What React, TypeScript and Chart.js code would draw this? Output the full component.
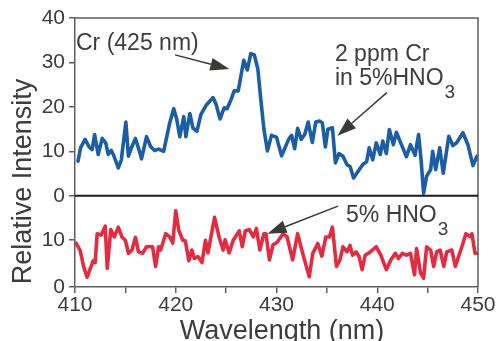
import { useEffect, useRef } from "react";
import { Chart, registerables } from "chart.js";

Chart.register(...registerables);

// ---------- data ----------
const blueX = [
  410.3, 410.55, 411.0, 411.4, 411.7, 411.95, 412.3, 412.7, 413.05, 413.3, 413.6, 413.8,
  414.3, 414.6, 415.05, 415.3, 415.6, 416.0, 416.4, 416.6, 417.1, 417.5, 417.9, 418.3,
  418.8, 419.4, 419.8, 420.1, 420.4, 420.8, 421.0, 421.4, 421.7, 422.1, 422.5, 423.0,
  423.7, 424.0, 424.4, 424.8, 425.1, 425.5, 425.8, 426.2, 426.75, 427.1, 427.45, 427.8,
  428.15, 428.45, 428.75, 429.1, 429.5, 430.0, 430.5, 430.85, 431.2, 431.5, 431.8, 432.1,
  432.45, 432.8, 433.15, 433.55, 433.9, 434.3, 434.55, 434.85, 435.1, 435.55, 435.85, 436.2,
  436.6, 437.0, 437.3, 437.65, 438.1, 438.55, 438.95, 439.2, 439.55, 439.9, 440.3, 440.55,
  440.9, 441.2, 441.6, 441.9, 442.4, 442.9, 443.3, 443.75, 444.1, 444.35, 444.6, 444.9,
  445.3, 445.5, 445.8, 446.2, 446.55, 447.1, 447.5, 447.9, 448.5, 449.0, 449.5, 449.9,
];
const blueY = [
  7.8, 10.8, 12.7, 11.0, 10.4, 13.8, 9.3, 12.9, 11.9, 9.3, 10.2, 9.3,
  6.3, 8.1, 16.6, 8.9, 10.8, 12.9, 10.0, 8.3, 13.3, 11.1, 10.2, 10.5,
  10.0, 16.4, 19.6, 17.2, 13.3, 17.8, 13.3, 18.5, 15.3, 14.5, 18.3, 20.3,
  22.1, 20.6, 17.3, 19.8, 19.6, 21.7, 23.6, 23.6, 30.5, 28.3, 32.0, 31.7,
  28.5, 21.5, 15.0, 10.1, 13.6, 13.2, 9.0, 10.8, 12.7, 13.6, 10.6, 15.2,
  12.7, 13.8, 16.6, 12.0, 16.6, 16.8, 16.4, 11.0, 15.0, 15.3, 7.4, 9.5,
  8.9, 7.0, 6.6, 4.0, 5.5, 7.0, 7.7, 10.8, 8.1, 11.9, 9.3, 12.3,
  9.5, 14.9, 11.5, 14.3, 11.5, 8.8, 11.5, 9.1, 13.8, 8.1, 0.6, 4.4,
  5.9, 10.0, 5.9, 10.8, 5.1, 13.4, 11.3, 12.0, 14.2, 11.5, 6.8, 8.9,
];

const redX = [
  410.1, 410.5, 410.9, 411.2, 411.6, 411.8, 412.0, 412.2, 412.6, 412.75, 413.0, 413.2,
  413.55, 413.9, 414.3, 414.65, 415.0, 415.3, 415.65, 416.0, 416.3, 416.7, 417.1, 417.7,
  418.0, 418.3, 418.5, 419.0, 419.4, 419.7, 420.0, 420.3, 420.7, 420.95, 421.3, 421.6,
  421.85, 422.2, 422.4, 422.6, 422.95, 423.2, 423.85, 424.3, 424.7, 424.9, 425.3, 425.7,
  426.3, 426.6, 426.9, 427.3, 427.7, 428.0, 428.35, 428.75, 428.95, 429.3, 429.65, 430.05,
  430.65, 431.05, 431.6, 432.1, 432.6, 433.25, 433.6, 434.1, 434.5, 434.9, 435.25, 435.55,
  435.95, 436.3, 436.6, 437.0, 437.3, 437.55, 437.9, 438.2, 438.5, 438.8, 439.3, 439.9,
  440.35, 440.9, 441.35, 441.8, 442.1, 442.5, 442.9, 443.3, 443.7, 443.9, 444.3, 444.6,
  444.9, 445.3, 445.6, 445.9, 446.25, 446.6, 446.9, 447.4, 447.75, 448.4, 448.8, 449.2,
  449.4, 449.7, 450.0,
];
const redY = [
  9.4, 7.9, 4.0, 2.1, 4.4, 5.6, 5.2, 11.4, 11.1, 11.8, 13.0, 4.0,
  12.3, 10.7, 12.8, 10.7, 10.0, 7.2, 7.9, 10.6, 7.5, 7.2, 8.6, 8.6,
  4.4, 8.6, 7.9, 11.4, 10.7, 9.4, 16.3, 12.1, 10.0, 9.9, 5.6, 7.9,
  6.1, 6.5, 5.9, 5.2, 10.0, 7.3, 14.9, 10.7, 7.9, 10.1, 7.3, 10.0,
  12.0, 8.6, 12.0, 12.3, 10.7, 12.5, 7.9, 11.4, 11.4, 5.8, 9.0, 9.5,
  11.4, 10.7, 5.8, 11.4, 7.2, 2.2, 7.2, 9.3, 6.6, 10.7, 10.7, 12.8,
  4.4, 5.8, 8.6, 7.5, 8.9, 6.8, 7.5, 6.5, 3.7, 6.8, 7.5, 8.6,
  6.8, 3.7, 5.8, 7.2, 6.1, 7.2, 6.8, 7.2, 2.6, 8.2, 3.0, 1.9,
  8.6, 7.9, 4.4, 7.5, 7.9, 4.4, 7.5, 7.9, 4.4, 8.6, 11.4, 10.8,
  11.4, 7.2, 7.2,
];

const xTickStep = 5;
const topTicks = [0, 10, 20, 30, 40];
const bottomTicks = [0, 10];

const xTitle = "Wavelength (nm)";
const yTitle = "Relative Intensity";

// ---------- style ----------
const FONT = "'Liberation Sans', Arial, Helvetica, sans-serif";
const TEXT = "#3d3d3d";
const AXIS = "#5e5e5e";
const BLUE = "#1b5ea8";
const RED = "#e52b3f";
const ARROW = "#3a3a37";

function arrow(ctx: CanvasRenderingContext2D, x1: number, y1: number, x2: number, y2: number) {
  const ang = Math.atan2(y2 - y1, x2 - x1);
  const len = 19;
  const hw = 6.5;
  const bx = x2 - Math.cos(ang) * len;
  const by = y2 - Math.sin(ang) * len;
  ctx.strokeStyle = ARROW;
  ctx.fillStyle = ARROW;
  ctx.lineWidth = 1.5;
  ctx.beginPath();
  ctx.moveTo(x1, y1);
  ctx.lineTo(bx, by);
  ctx.stroke();
  ctx.beginPath();
  ctx.moveTo(x2, y2);
  ctx.lineTo(bx + Math.sin(ang) * hw, by - Math.cos(ang) * hw);
  ctx.lineTo(bx - Math.sin(ang) * hw, by + Math.cos(ang) * hw);
  ctx.closePath();
  ctx.fill();
}

function subText(ctx: CanvasRenderingContext2D, main: string, sub: string, x: number, y: number) {
  ctx.fillStyle = TEXT;
  ctx.font = `23px ${FONT}`;
  ctx.textAlign = "left";
  ctx.textBaseline = "alphabetic";
  ctx.fillText(main, x, y);
  const w = ctx.measureText(main).width;
  ctx.font = `19px ${FONT}`;
  ctx.fillText(sub, x + w + 1, y + 13.5);
}

const overlay = {
  id: "overlay",
  afterDraw(chart: any) {
    const { ctx, chartArea: a, scales } = chart;
    const sx = scales.x;
    const st = scales.y;
    const sb = scales.y2;
    const X = (v: number) => sx.getPixelForValue(v);
    const T = (v: number) => st.getPixelForValue(v);
    const B = (v: number) => sb.getPixelForValue(v);
    ctx.save();

    // frame
    ctx.strokeStyle = AXIS;
    ctx.lineWidth = 1.5;
    ctx.beginPath();
    ctx.moveTo(a.left, a.top);
    ctx.lineTo(a.right, a.top);
    ctx.lineTo(a.right, a.bottom);
    ctx.stroke();

    // panel separator
    ctx.strokeStyle = "#1a1a1a";
    ctx.lineWidth = 2;
    ctx.beginPath();
    ctx.moveTo(a.left, st.bottom);
    ctx.lineTo(a.right, st.bottom);
    ctx.stroke();

    // axis titles
    ctx.fillStyle = TEXT;
    ctx.font = `27px ${FONT}`;
    ctx.textAlign = "center";
    ctx.textBaseline = "alphabetic";
    ctx.fillText(xTitle, 282, 339);
    ctx.save();
    ctx.translate(31, 181.5);
    ctx.rotate(-Math.PI / 2);
    ctx.fillText(yTitle, 0, 0);
    ctx.restore();

    // annotations
    ctx.fillStyle = TEXT;
    ctx.font = `23px ${FONT}`;
    ctx.textAlign = "left";
    ctx.fillText("Cr (425 nm)", X(410.1), T(32.7));
    arrow(ctx, X(419.93), T(31.7), X(425.32), T(28.5));

    ctx.fillStyle = TEXT;
    ctx.font = `23px ${FONT}`;
    ctx.fillText("2 ppm Cr", X(435.8), T(30.4));
    subText(ctx, "in 5%HNO", "3", X(435.8), T(25.0));
    arrow(ctx, X(440.95), T(23.2), X(436.05), T(13.5));

    subText(ctx, "5% HNO", "3", X(436.9), B(13.9));
    arrow(ctx, X(436.1), B(17.3), X(429.1), B(11.4));

    ctx.restore();
  },
};

export default function App() {
  const ref = useRef<HTMLCanvasElement | null>(null);

  useEffect(() => {
    document.body.style.margin = "0";
    const canvas = ref.current;
    if (!canvas) return;
    const tickFont = { family: FONT, size: 21 };
    const yGrid = { drawOnChartArea: false, drawTicks: true, tickLength: 6, color: AXIS, lineWidth: 1.5 };
    const yBorder = { display: true, color: AXIS, width: 1.5 };
    const chart = new Chart(canvas, {
      type: "line",
      data: {
        datasets: [
          {
            label: "2 ppm Cr in 5% HNO3",
            data: blueX.map((x, i) => ({ x, y: blueY[i] })),
            yAxisID: "y",
            borderColor: BLUE,
            borderWidth: 3.6,
            pointRadius: 0,
            tension: 0,
            borderJoinStyle: "round",
            borderCapStyle: "round",
          },
          {
            label: "5% HNO3",
            data: redX.map((x, i) => ({ x, y: redY[i] })),
            yAxisID: "y2",
            borderColor: RED,
            borderWidth: 3.6,
            pointRadius: 0,
            tension: 0,
            borderJoinStyle: "round",
            borderCapStyle: "round",
          },
        ],
      },
      options: {
        responsive: false,
        animation: false,
        devicePixelRatio: 1,
        layout: { padding: { top: 18, right: 22, left: 0, bottom: 0 } },
        plugins: { legend: { display: false }, tooltip: { enabled: false } },
        scales: {
          x: {
            type: "linear",
            min: 410,
            max: 450,
            afterFit: (s: any) => { s.height = 54; },
            ticks: {
              stepSize: xTickStep,
              autoSkip: false,
              maxRotation: 0,
              padding: 0,
              color: TEXT,
              font: tickFont,
              callback: (v: any) => (Number(v) % 10 === 0 ? String(v) : ""),
            },
            grid: { drawOnChartArea: false, drawTicks: true, tickLength: 6, color: AXIS, lineWidth: 1.5 },
            border: { display: true, color: AXIS, width: 1.5 },
          },
          y2: {
            type: "linear",
            position: "left",
            stack: "panels",
            stackWeight: 91,
            min: 0,
            max: 19.5,
            afterFit: (s: any) => { s.width = 75; },
            afterBuildTicks: (s: any) => { s.ticks = bottomTicks.map((value) => ({ value })); },
            ticks: { padding: 4, autoSkip: false, color: TEXT, font: tickFont },
            grid: yGrid,
            border: yBorder,
          },
          y: {
            type: "linear",
            position: "left",
            stack: "panels",
            stackWeight: 177.4,
            min: 0,
            max: 40,
            afterFit: (s: any) => { s.width = 75; },
            afterBuildTicks: (s: any) => { s.ticks = topTicks.map((value) => ({ value })); },
            ticks: { padding: 4, autoSkip: false, color: TEXT, font: tickFont },
            grid: yGrid,
            border: yBorder,
          },
        },
      },
      plugins: [overlay],
    } as any);
    return () => chart.destroy();
  }, []);

  return (
    <div style={{ width: 500, height: 341, overflow: "hidden", background: "#fff" }}>
      <canvas ref={ref} width={500} height={341} style={{ display: "block" }} />
    </div>
  );
}
